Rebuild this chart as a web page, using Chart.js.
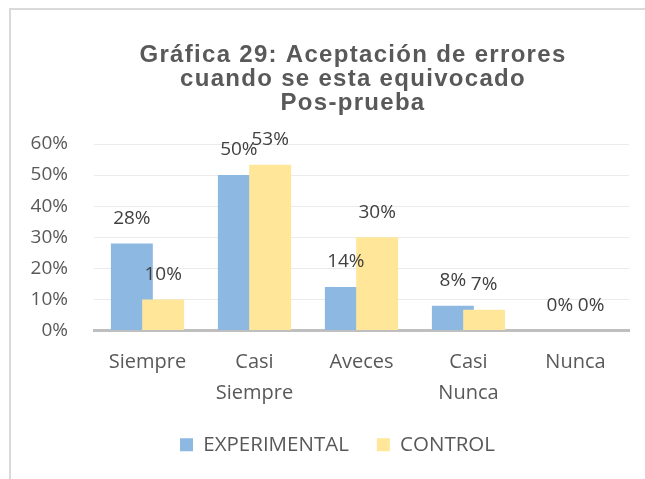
<!DOCTYPE html>
<html>
<head>
<meta charset="utf-8">
<script src="https://cdn.jsdelivr.net/npm/chart.js@4/dist/chart.umd.min.js"></script>
<style>
  html, body { margin: 0; padding: 0; background: #fff; }
  #wrap { position: relative; width: 645px; height: 479px; overflow: hidden; }
  #frame { position: absolute; left: 9px; top: 8px; width: 700px; height: 520px;
           border: 2px solid #d9d9d9; box-sizing: border-box; pointer-events: none; }
  canvas { position: absolute; left: 0; top: 0; }
</style>
</head>
<body>
<div id="wrap">
  <canvas id="chart" width="645" height="479"></canvas>
  <div id="frame"></div>
</div>
<script>
// Chart data
const titleLines = ['Gráfica 29: Aceptación de errores', 'cuando se esta equivocado', 'Pos-prueba'];
const categories = ['Siempre', ['Casi', 'Siempre'], 'Aveces', ['Casi', 'Nunca'], 'Nunca'];
const experimental = [28, 50, 14, 8, 0];
const control = [10, 53.3, 30, 6.7, 0];
const yTicks = [0, 10, 20, 30, 40, 50, 60];

const BLUE = '#8db8e2';
const YELLOW = '#ffe699';
const FONT = '"Open Sans", Lato, sans-serif';

// Title drawn centered above the plot, like the Excel original
const titlePlugin = {
  id: 'excelTitle',
  afterDraw(chart) {
    const ctx = chart.ctx;
    ctx.save();
    ctx.font = 'bold 24px "Liberation Sans", Arial, sans-serif';
    ctx.fillStyle = '#595959';
    ctx.textAlign = 'center';
    ctx.textBaseline = 'alphabetic';
    if ('letterSpacing' in ctx) ctx.letterSpacing = '1.3px';
    titleLines.forEach((line, i) => ctx.fillText(line, 353, 62 + i * 24));
    ctx.restore();
  }
};

// Chart.js paints the first dataset last; Excel puts the second series
// on top where the bars overlap, so hold it back and paint it afterwards.
const overlapOrder = {
  id: 'overlapOrder',
  beforeDatasetDraw(chart, args) {
    if (args.index === 1 && !chart.$late) return false;
  },
  afterDatasetsDraw(chart) {
    const meta = chart.getDatasetMeta(1);
    chart.$late = true;
    meta.controller.draw();
    chart.$late = false;
  }
};

// Value labels above each bar
const valueLabels = {
  id: 'valueLabels',
  afterDatasetsDraw(chart) {
    const ctx = chart.ctx;
    ctx.save();
    ctx.font = '19px ' + FONT;
    ctx.fillStyle = '#404040';
    ctx.textAlign = 'center';
    ctx.textBaseline = 'middle';
    chart.data.datasets.forEach((ds, di) => {
      chart.getDatasetMeta(di).data.forEach((bar, i) => {
        ctx.fillText(Math.round(ds.data[i]) + '%', bar.x, bar.y - 25);
      });
    });
    ctx.restore();
  }
};

new Chart(document.getElementById('chart'), {
  type: 'bar',
  data: {
    labels: categories,
    datasets: [
      { label: 'EXPERIMENTAL', data: experimental, backgroundColor: BLUE,
        categoryPercentage: 0.585, barPercentage: 1.34 },
      { label: 'CONTROL', data: control, backgroundColor: YELLOW,
        categoryPercentage: 0.585, barPercentage: 1.34 }
    ]
  },
  options: {
    responsive: false,
    animation: false,
    layout: { padding: { top: 144, right: 0, left: 30, bottom: 14 } },
    plugins: {
      title: { display: false },
      tooltip: { enabled: false },
      legend: {
        position: 'bottom',
        labels: {
          boxWidth: 13, boxHeight: 13, padding: 28,
          color: '#595959',
          font: { family: FONT, size: 20.5 }
        }
      }
    },
    scales: {
      x: {
        grid: { display: false },
        border: { display: true, color: '#bfbfbf', width: 3 },
        ticks: {
          color: '#595959', padding: 8, maxRotation: 0, autoSkip: false,
          font: { family: FONT, size: 20, lineHeight: 1.55 }
        },
        afterFit(scale) { scale.height = 76; }
      },
      y: {
        min: 0, max: 60,
        afterBuildTicks(scale) { scale.ticks = yTicks.map(v => ({ value: v })); },
        grid: { color: '#ebebeb', lineWidth: 1, drawTicks: false },
        border: { display: false },
        ticks: {
          color: '#595959', padding: 26,
          font: { family: FONT, size: 19 },
          callback: v => v + '%'
        },
        afterFit(scale) { scale.width = 64; }
      },
      // empty right-hand axis: keeps the plot off the right edge
      // while the legend stays centred on the whole box
      yRight: {
        position: 'right',
        grid: { display: false },
        border: { display: false },
        ticks: { display: false },
        afterFit(scale) { scale.width = 16; }
      }
    }
  },
  plugins: [titlePlugin, overlapOrder, valueLabels]
});
</script>
</body>
</html>
